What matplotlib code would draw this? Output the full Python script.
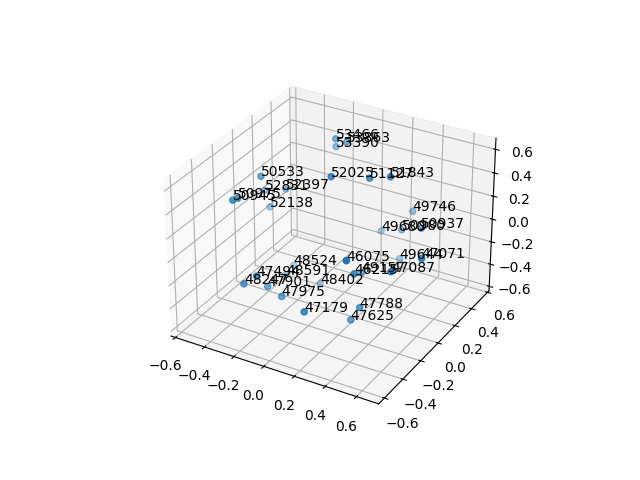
import matplotlib
matplotlib.use("Agg")
import matplotlib.pyplot as plt

# =========================
# DATA
# =========================
labels = ["53466", "53863", "53390", "52025", "51127", "51843", "50533", "52831",
          "52397", "50945", "50975", "52138", "49746", "49680", "50980", "50937",
          "46075", "49644", "47071", "46215", "49157", "47087", "48524", "48591",
          "47494", "48247", "47901", "48402", "47975", "47179", "47788", "47625"]

x = [-0.13, -0.07, -0.22, 0.13, 0.31, 0.43, -0.38, -0.55,
     -0.45, -0.36, -0.34, -0.55, 0.24, 0.005, 0.22, 0.41,
     0.49, 0.17, 0.74, 0.40, 0.19, 0.62, -0.42, -0.39,
     -0.11, -0.21, -0.20, -0.17, -0.06, 0.23, 0.39, 0.32]

y = [0.31, 0.33, 0.46, -0.16, -0.05, -0.03, -0.09, 0.20,
     0.27, -0.40, -0.38, 0.25, 0.57, 0.61, 0.48, 0.37,
     -0.59, 0.55, -0.22, -0.36, 0.07, -0.34, 0.30, 0.17,
     -0.55, -0.53, -0.31, 0.20, -0.38, -0.60, -0.28, -0.26]

z = [0.59, 0.57, 0.40, 0.66, 0.64, 0.68, 0.44, 0.07,
     0.07, 0.45, 0.46, -0.11, -0.08, -0.37, -0.19, -0.03,
     0.40, -0.52, 0.25, 0.09, -0.29, 0.18, -0.63, -0.61,
     0.01, -0.11, -0.29, -0.63, -0.27, -0.12, -0.26, -0.41]

# =========================
# PLOT
# =========================
fig = plt.figure(figsize=(6.4, 4.8), dpi=100)
ax = fig.add_subplot(projection='3d')

ax.scatter(x, y, z)
for xi, yi, zi, label in zip(x, y, z, labels):
    ax.text(xi, yi, zi, label)

ax.set_xlim(-0.63, 0.74)
ax.set_ylim(-0.66, 0.62)
ax.set_zlim(-0.64, 0.695)

fig.savefig("out.png")
